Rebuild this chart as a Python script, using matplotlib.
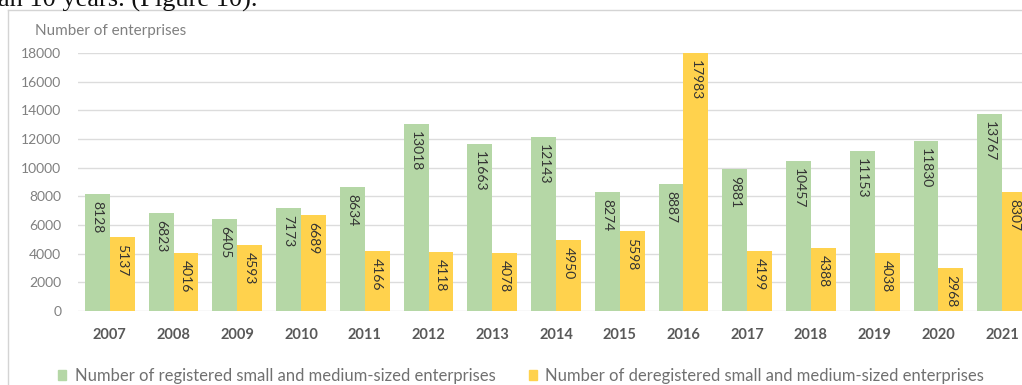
import matplotlib.pyplot as plt
from matplotlib.lines import Line2D
import numpy as np

# SME registrations vs deregistrations by year
years = ['2007', '2008', '2009', '2010', '2011', '2012', '2013', '2014',
         '2015', '2016', '2017', '2018', '2019', '2020', '2021']
registered = [8128, 6823, 6405, 7173, 8634, 13018, 11663, 12143,
              8274, 8887, 9881, 10457, 11153, 11830, 13767]
deregistered = [5137, 4016, 4593, 6689, 4166, 4118, 4078, 4950,
                5598, 17983, 4199, 4388, 4038, 2968, 8307]
yticks = [0, 2000, 4000, 6000, 8000, 10000, 12000, 14000, 16000, 18000]

green = '#b5d7a6'
yellow = '#ffd24d'

W, H = 1022, 385
fig = plt.figure(figsize=(W / 100, H / 100), dpi=100)
plt.rcParams['font.family'] = ['Lato', 'DejaVu Sans']

# plot area in pixel terms (extends past the right edge on purpose)
left, right, top, bottom = 78, 1034, 53, 311
ax = fig.add_axes([left / W, 1 - bottom / H, (right - left) / W, (bottom - top) / H])

x = np.arange(len(years))
bw = 0.39
b1 = ax.bar(x - bw / 2, registered, bw, color=green, zorder=2)
b2 = ax.bar(x + bw / 2, deregistered, bw, color=yellow, zorder=2)

# value labels, rotated, just inside the top of each bar
for bars, vals in ((b1, registered), (b2, deregistered)):
    for b, v in zip(bars, vals):
        ax.annotate(str(v), xy=(b.get_x() + b.get_width() / 2, v),
                    xytext=(0, -7), textcoords='offset pixels',
                    rotation=270, ha='center', va='top',
                    fontsize=10, color='#333333', zorder=3)

ax.set_xlim(-0.5, len(years) - 0.5)
ax.set_ylim(0, 18000)
ax.set_yticks(yticks)
ax.set_yticklabels([str(t) for t in yticks], fontsize=10, color='#808080')
ax.set_xticks(x)
ax.set_xticklabels(years, fontsize=10.5, fontweight='bold', color='#595959')
ax.tick_params(axis='both', length=0)
ax.tick_params(axis='y', pad=12)
ax.tick_params(axis='x', pad=12)
ax.grid(axis='y', color='#dcdcdc', linewidth=1, zorder=0)
for s in ax.spines.values():
    s.set_visible(False)

fig.text(35 / W, 1 - 31 / H, 'Number of enterprises', fontsize=11,
         color='#808080', va='center', ha='left')

# legend row under the axis
handles = [plt.Rectangle((0, 0), 1, 1, color=green),
           plt.Rectangle((0, 0), 1, 1, color=yellow)]
labels = ['Number of registered small and medium-sized enterprises',
          'Number of deregistered small and medium-sized enterprises']
fig.legend(handles, labels, loc='center left', bbox_to_anchor=(43 / W, 1 - 376 / H),
           ncol=2, frameon=False, fontsize=12, labelcolor='#707070',
           handlelength=0.5, handleheight=0.5, handletextpad=0.5, columnspacing=2.0)

# chart frame
fig.add_artist(Line2D([8 / W, 8 / W], [0, 1 - 10 / H], color='#d4d4d4', lw=1))
fig.add_artist(Line2D([8 / W, 1], [1 - 10 / H, 1 - 10 / H], color='#d4d4d4', lw=1))

# tail of the paragraph above the chart
fig.text(-2 / W, 1 - 7 / H, 'an 10 years. (Figure 10).', fontsize=19,
         family='Liberation Serif', va='baseline', ha='left', color='#111111')

fig.savefig('out.png', dpi=100)
